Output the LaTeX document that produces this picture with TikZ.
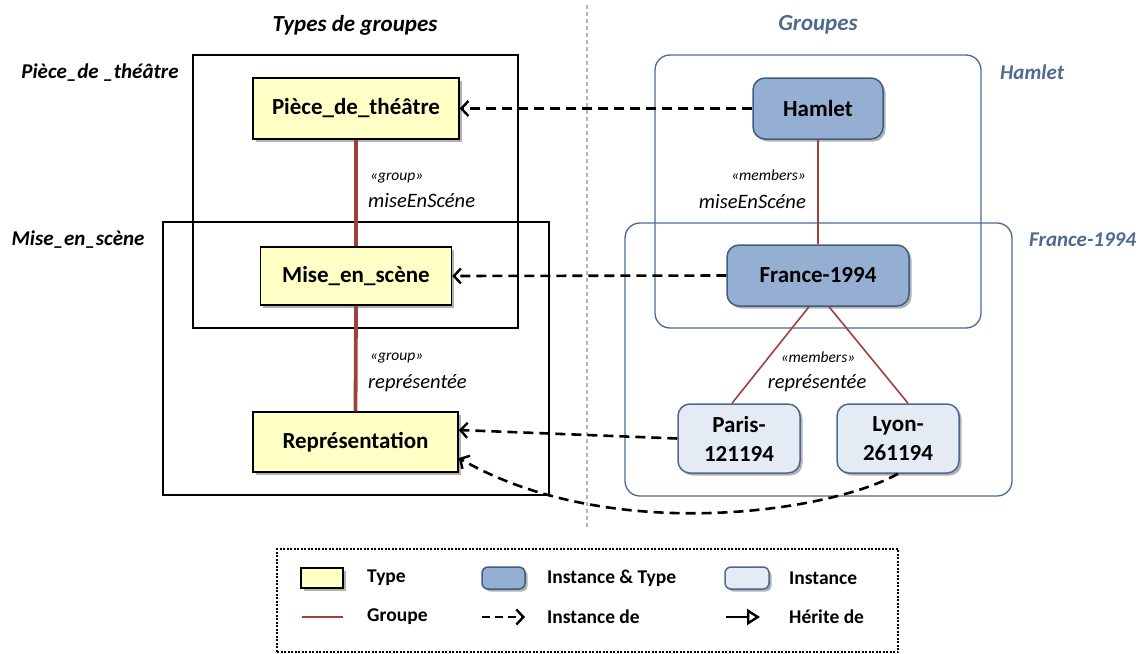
\documentclass[tikz,border=0pt]{standalone}
\usepackage{fontspec}
\setmainfont{Carlito}
\usetikzlibrary{arrows.meta,shadows,calc}
\definecolor{typefill}{HTML}{FFFFC6}
\definecolor{itfill}{HTML}{95AFD3}
\definecolor{itborder}{HTML}{3F5C83}
\definecolor{instfill}{HTML}{E5EBF5}
\definecolor{instborder}{HTML}{4C6890}
\definecolor{grpblue}{HTML}{4A6A94}
\definecolor{lblblue}{HTML}{4D6A8F}
\definecolor{linkred}{HTML}{A0403C}
\newcommand\mynodefont{\bfseries\fontsize{23}{29}\selectfont}
\newcommand\mystereofont{\itshape\fontsize{15.5}{18}\selectfont}
\newcommand\myrolefont{\itshape\fontsize{20.5}{24}\selectfont}
\newcommand\mygrpfont{\bfseries\itshape\fontsize{21}{25}\selectfont}
\newcommand\mytitlefont{\bfseries\itshape\fontsize{23}{28}\selectfont}
\newcommand\mylegfont{\bfseries\fontsize{19.5}{23}\selectfont}
\begin{document}
\begin{tikzpicture}[x=1pt,y=-1pt,
  shadowed/.style={drop shadow={shadow xshift=2.5pt,shadow yshift=-2.5pt,fill=black,opacity=0.3}},
  typebox/.style={draw=black,line width=1.5pt,fill=typefill,shadowed,font=\mynodefont,align=center,inner sep=0pt},
  itbox/.style={draw=itborder,line width=1.5pt,fill=itfill,rounded corners=12pt,shadowed,font=\mynodefont,align=center,inner sep=0pt},
  instbox/.style={draw=instborder,line width=1.5pt,fill=instfill,rounded corners=12pt,shadowed,font=\mynodefont,align=center,inner sep=0pt},
  grpbox/.style={draw=black,line width=1.4pt,inner sep=0pt},
  grpboxb/.style={draw=grpblue,line width=1.3pt,rounded corners=15pt,inner sep=0pt},
  grouplink/.style={draw=linkred,line width=3.8pt},
  memberlink/.style={draw=linkred,line width=1.6pt},
  barb/.style={-{Straight Barb[length=7pt,width=15pt,line width=2.4pt]}},
  instof/.style={draw=black,line width=2.6pt,dash pattern=on 10pt off 6pt,barb},
  stereo/.style={font=\mystereofont,inner sep=0pt},
  role/.style={font=\myrolefont,inner sep=0pt},
  grplabel/.style={font=\mygrpfont,inner sep=0pt},
  title/.style={font=\mytitlefont,inner sep=0pt},
  legtext/.style={font=\mylegfont,anchor=west,inner sep=0pt}]
\useasboundingbox (0,0) rectangle (1142,653);

% titles and separator
\node[title] (t1) at (355,25) {Types de groupes};
\node[title,text=lblblue] (t2) at (818,25) {Groupes};
\coordinate (sepA) at (587,5);
\coordinate (sepB) at (587,527);
\draw[gray!60,line width=1.3pt,dash pattern=on 4pt off 3pt] (sepA) -- (sepB);

% group boxes
\node[grpbox,minimum width=325pt,minimum height=273pt] (gpiece) at (355.5,191.5) {};
\node[grpbox,minimum width=386pt,minimum height=273pt] (gmise) at (356,358.5) {};
\node[grpboxb,minimum width=326pt,minimum height=273pt] (ghamlet) at (818,191.5) {};
\node[grpboxb,minimum width=387pt,minimum height=273pt] (gfrance) at (818.5,359.5) {};

\node[grplabel] (lpiece) at (100,73) {Pièce\_de \_théâtre};
\node[grplabel] (lmise) at (78,240) {Mise\_en\_scène};
\node[grplabel,text=lblblue,anchor=west] (lhamlet) at (1000,72) {Hamlet};
\node[grplabel,text=lblblue,anchor=west] (lfrance) at (1029,240) {France-1994};

% nodes
\node[typebox,minimum width=206pt,minimum height=61pt] (piece) at (356,108.5) {Pièce\_de\_théâtre};
\node[typebox,minimum width=191pt,minimum height=58pt] (mise) at (356,276) {Mise\_en\_scène};
\node[typebox,minimum width=205pt,minimum height=60pt] (repr) at (355.5,442) {Représentation};
\node[itbox,minimum width=130pt,minimum height=61pt] (hamlet) at (818,108.5) {Hamlet};
\node[itbox,minimum width=182pt,minimum height=61pt] (france) at (818,275.5) {France-1994};
\node[instbox,minimum width=122pt,minimum height=69pt] (paris) at (739,438.5) {Paris-\\121194};
\node[instbox,minimum width=122pt,minimum height=69pt] (lyon) at (898,438.5) {Lyon-\\261194};

% group links
\draw[grouplink] (piece.south) -- (mise.north);
\draw[grouplink] (mise.south) -- (repr.north);
\draw[memberlink] (hamlet.south) -- (france.north);
\draw[memberlink] ($(france.south)+(-9,0)$) -- ($(paris.north)+(-7,0)$);
\draw[memberlink] ($(france.south)+(11,0)$) -- ($(lyon.north)+(10,0)$);

% link labels
\node[stereo,anchor=west] (s1) at (370,178) {«group»};
\node[role,anchor=west] (r1) at (368,201) {miseEnScéne};
\node[stereo,anchor=west] (s2) at (370,358) {«group»};
\node[role,anchor=west] (r2) at (368,383) {représentée};
\node[stereo,anchor=east] (s3) at (806,175) {«members»};
\node[role,anchor=east] (r3) at (806,202) {miseEnScéne};
\node[stereo] (s4) at (818,357) {«members»};
\node[role] (r4) at (817,383) {représentée};

% instance-of links
\draw[instof] (hamlet.west) -- (piece.east);
\draw[instof] (france.west) -- (mise.east);
\draw[instof] (paris.west) -- ($(repr.east)+(0,-12)$);
\draw[instof] (lyon.south) .. controls (830,512) and (610,545) .. ($(repr.east)+(0,16)$);

% legend
\node[draw=black,line width=1.3pt,dash pattern=on 2pt off 1.5pt,minimum width=621pt,minimum height=103pt,inner sep=0pt] (legend) at (587.5,600.5) {};
\node[draw=black,line width=1.6pt,fill=typefill,shadowed,minimum width=42pt,minimum height=20pt,inner sep=0pt] (ktype) at (322,578) {};
\node[legtext] (ttype) at (367,578) {Type};
\node[draw=itborder,line width=1.5pt,fill=itfill,rounded corners=6pt,shadowed,minimum width=43pt,minimum height=22pt,inner sep=0pt] (kit) at (503.5,578) {};
\node[legtext] (tit) at (547,578) {Instance \& Type};
\node[draw=instborder,line width=1.5pt,fill=instfill,rounded corners=6pt,shadowed,minimum width=44pt,minimum height=22pt,inner sep=0pt] (kinst) at (747,578) {};
\node[legtext] (tinst) at (789,578) {Instance};
\coordinate (kgA) at (302,617);
\coordinate (kgB) at (343,617);
\draw[memberlink,line width=2.2pt] (kgA) -- (kgB);
\node[legtext] (tgrp) at (367,617) {Groupe};
\coordinate (kdA) at (482,617);
\coordinate (kdB) at (525,617);
\draw[draw=black,line width=2.6pt,dash pattern=on 8pt off 5pt,barb] (kdA) -- (kdB);
\node[legtext] (tdash) at (547,617) {Instance de};
\coordinate (khA) at (726,617);
\coordinate (khB) at (760,617);
\draw[draw=black,line width=2.4pt,-{Triangle[open,length=13pt,width=16pt,line width=2.4pt]}] (khA) -- (khB);
\node[legtext] (therit) at (789,617) {Hérite de};
\end{tikzpicture}
\end{document}
